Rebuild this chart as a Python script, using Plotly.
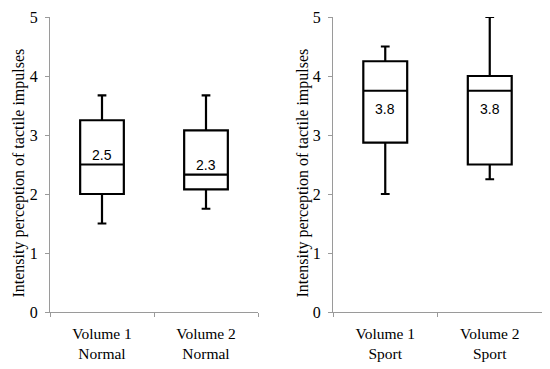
import plotly.graph_objects as go

categories_normal = ["Volume 1<br>Normal", "Volume 2<br>Normal"]
categories_sport = ["Volume 1<br>Sport", "Volume 2<br>Sport"]

normal_lower = [1.5, 1.75]
normal_q1 = [2.0, 2.08]
normal_median = [2.5, 2.33]
normal_q3 = [3.25, 3.08]
normal_upper = [3.67, 3.67]

sport_lower = [2.0, 2.25]
sport_q1 = [2.87, 2.5]
sport_median = [3.75, 3.75]
sport_q3 = [4.25, 4.0]
sport_upper = [4.5, 5.0]

y_title = "Intensity perception of tactile impulses"
y_ticks = [0, 1, 2, 3, 4, 5]

serif = "Liberation Serif"
fig = go.Figure()

def add_box(cats, lo, q1, med, q3, hi, xa, ya):
    fig.add_trace(go.Box(
        x=cats, lowerfence=lo, q1=q1, median=med, q3=q3, upperfence=hi,
        xaxis=xa, yaxis=ya, width=0.42, whiskerwidth=0.2,
        line=dict(color="black", width=2.2), fillcolor="white",
        showlegend=False, boxpoints=False, hoverinfo="skip"))

add_box(categories_normal, normal_lower, normal_q1, normal_median, normal_q3, normal_upper, "x", "y")
add_box(categories_sport, sport_lower, sport_q1, sport_median, sport_q3, sport_upper, "x2", "y2")

for c, m in zip(categories_normal, normal_median):
    fig.add_annotation(x=c, y=m, xref="x", yref="y", text=f"{m:.1f}", showarrow=False,
                       yshift=10, font=dict(family="Liberation Sans", size=14, color="black"))
for c, m in zip(categories_sport, sport_median):
    fig.add_annotation(x=c, y=m, xref="x2", yref="y2", text=f"{m:.1f}", showarrow=False,
                       yshift=-18, font=dict(family="Liberation Sans", size=14, color="black"))

xcommon = dict(showline=True, linecolor="#9a9a9a", linewidth=1, showgrid=False, automargin=False,
               ticks="outside", tickson="boundaries", ticklen=4, tickcolor="#9a9a9a",
               range=[-0.5, 1.5], ticklabelstandoff=7,
               tickfont=dict(family=serif, size=15.5, color="black"), type="category")
ycommon = dict(showline=True, linecolor="#9a9a9a", linewidth=1, showgrid=False, zeroline=False,
               automargin=False, range=[0, 5], tickvals=y_ticks, ticks="outside", ticklen=4,
               ticklabelstandoff=4,
               tickcolor="#9a9a9a", tickfont=dict(family=serif, size=16, color="black"))

W, H = 542, 361  # page body has an 8px margin inside the 550x369 window
fig.update_layout(
    width=W, height=H, margin=dict(l=0, r=0, t=0, b=0),
    plot_bgcolor="white", paper_bgcolor="white",
    xaxis=dict(domain=[42 / W, 250 / W], anchor="y", **xcommon),
    yaxis=dict(domain=[1 - 304 / H, 1 - 9 / H], anchor="x", **ycommon),
    xaxis2=dict(domain=[325 / W, 534 / W], anchor="y2", **xcommon),
    yaxis2=dict(domain=[1 - 304 / H, 1 - 9 / H], anchor="x2", **ycommon),
)
for xc in (11, 295):
    fig.add_annotation(x=xc / W, y=1 - 165.5 / H, xref="paper", yref="paper", text=y_title,
                       textangle=-90, showarrow=False, xanchor="center", yanchor="middle",
                       font=dict(family=serif, size=16, color="black"))

fig.write_html("out.html")
